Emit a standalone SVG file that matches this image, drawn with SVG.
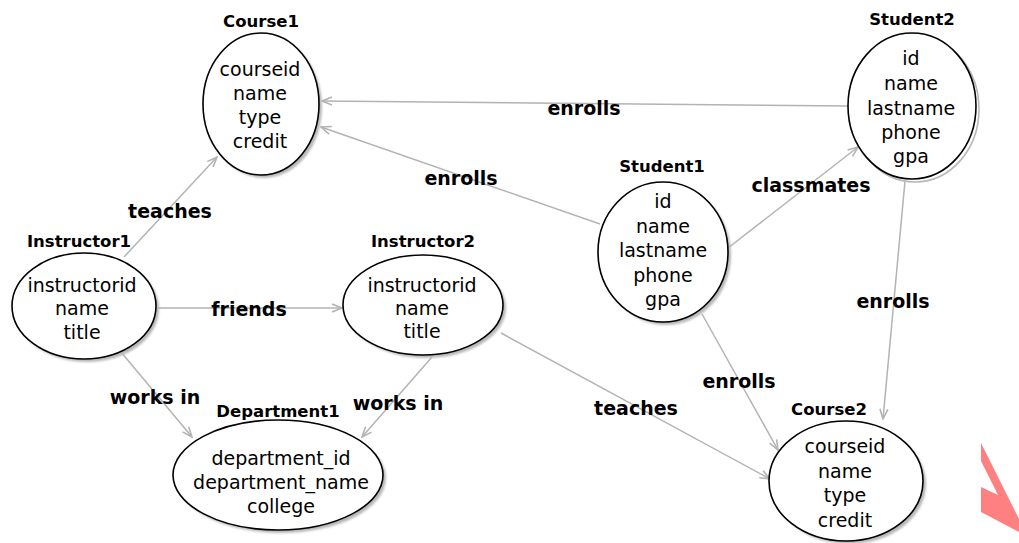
<svg xmlns="http://www.w3.org/2000/svg" width="1019" height="543" viewBox="0 0 1019 543">
  <defs>
    <marker id="arrow" viewBox="0 0 12 10" refX="11" refY="5" markerWidth="12" markerHeight="10" markerUnits="userSpaceOnUse" orient="auto">
      <path d="M1,1 L11,5 L1,9" fill="none" stroke="#b3b3b3" stroke-width="1.6"/>
    </marker>
    <filter id="soft" x="-10%" y="-10%" width="120%" height="120%">
      <feGaussianBlur stdDeviation="1.2"/>
    </filter>
  </defs>
  <style>
    .edge { fill: none; stroke: #b3b3b3; stroke-width: 1.5; marker-end: url(#arrow); }
    .node { fill: #ffffff; stroke: #000000; stroke-width: 1.6; }
    .shadow { fill: #b8b8b8; filter: url(#soft); }
    .ring { fill: none; stroke: #b8b8b8; stroke-width: 1.6; }
    .title { font-family: "DejaVu Sans", Verdana, sans-serif; font-weight: bold; font-size: 16.5px; fill: #000; text-anchor: middle; }
    .body { font-family: "DejaVu Sans", Verdana, sans-serif; font-size: 19px; fill: #000; text-anchor: middle; }
    .elabel { font-family: "DejaVu Sans", Verdana, sans-serif; font-weight: bold; font-size: 19px; fill: #000; text-anchor: middle; }
  </style>
  <rect width="1019" height="543" fill="#ffffff"/>

  <!-- relationships -->
  <g id="connectors">
    <line class="edge" x1="124" y1="257" x2="217" y2="157"/>
    <line class="edge" x1="848" y1="106" x2="322" y2="101"/>
    <line class="edge" x1="600" y1="224" x2="321" y2="127"/>
    <line class="edge" x1="728" y1="248" x2="858" y2="147"/>
    <line class="edge" x1="157" y1="308" x2="342" y2="308"/>
    <line class="edge" x1="121" y1="352" x2="192" y2="437"/>
    <line class="edge" x1="432" y1="357" x2="362" y2="437"/>
    <line class="edge" x1="501" y1="333" x2="770" y2="479"/>
    <line class="edge" x1="702" y1="314" x2="778" y2="450"/>
    <line class="edge" x1="905" y1="181" x2="883" y2="419"/>
    <text class="elabel" x="170" y="218">teaches</text>
    <text class="elabel" x="584" y="115">enrolls</text>
    <text class="elabel" x="461" y="185">enrolls</text>
    <text class="elabel" x="811" y="192">classmates</text>
    <text class="elabel" x="249" y="316">friends</text>
    <text class="elabel" x="155" y="404">works in</text>
    <text class="elabel" x="398" y="410">works in</text>
    <text class="elabel" x="636" y="415">teaches</text>
    <text class="elabel" x="739" y="388">enrolls</text>
    <text class="elabel" x="893" y="308">enrolls</text>
  </g>

  <g id="course1">
    <ellipse class="shadow" cx="264" cy="107" rx="58" ry="71"/>
    <ellipse class="node" cx="261" cy="104" rx="58" ry="71"/>
    <text class="title" x="261" y="27">Course1</text>
    <text class="body" x="260" y="76">courseid</text>
    <text class="body" x="260" y="100">name</text>
    <text class="body" x="260" y="124">type</text>
    <text class="body" x="260" y="148">credit</text>
  </g>

  <g id="student2">
    <ellipse class="ring" cx="915" cy="109" rx="64" ry="73"/>
    <ellipse class="node" cx="912" cy="106" rx="64" ry="73"/>
    <text class="title" x="912" y="25">Student2</text>
    <text class="body" x="911" y="65">id</text>
    <text class="body" x="911" y="90">name</text>
    <text class="body" x="911" y="115">lastname</text>
    <text class="body" x="911" y="139">phone</text>
    <text class="body" x="911" y="163">gpa</text>
  </g>

  <g id="instructor1">
    <ellipse class="shadow" cx="87" cy="309" rx="72" ry="53"/>
    <ellipse class="node" cx="84" cy="306" rx="72" ry="53"/>
    <text class="title" x="79" y="247">Instructor1</text>
    <text class="body" x="82" y="292">instructorid</text>
    <text class="body" x="82" y="315">name</text>
    <text class="body" x="82" y="339">title</text>
  </g>

  <g id="student1">
    <ellipse class="shadow" cx="666" cy="255" rx="65" ry="70"/>
    <ellipse class="node" cx="663" cy="252" rx="65" ry="70"/>
    <text class="title" x="662" y="172">Student1</text>
    <text class="body" x="663" y="208">id</text>
    <text class="body" x="663" y="233">name</text>
    <text class="body" x="663" y="257">lastname</text>
    <text class="body" x="663" y="282">phone</text>
    <text class="body" x="663" y="306">gpa</text>
  </g>

  <g id="instructor2">
    <ellipse class="shadow" cx="426" cy="308" rx="80" ry="50"/>
    <ellipse class="node" cx="423" cy="305" rx="80" ry="50"/>
    <text class="title" x="423" y="247">Instructor2</text>
    <text class="body" x="422" y="292">instructorid</text>
    <text class="body" x="422" y="315">name</text>
    <text class="body" x="422" y="338">title</text>
  </g>

  <g id="department1">
    <ellipse class="shadow" cx="281" cy="478" rx="105" ry="55"/>
    <ellipse class="node" cx="278" cy="475" rx="105" ry="55"/>
    <text class="title" x="278" y="417">Department1</text>
    <text class="body" x="281" y="465">department_id</text>
    <text class="body" x="281" y="489">department_name</text>
    <text class="body" x="281" y="513">college</text>
  </g>

  <g id="course2">
    <ellipse class="shadow" cx="849" cy="484" rx="77" ry="60"/>
    <ellipse class="node" cx="846" cy="481" rx="77" ry="60"/>
    <text class="title" x="829" y="415">Course2</text>
    <text class="body" x="845" y="453">courseid</text>
    <text class="body" x="845" y="478">name</text>
    <text class="body" x="845" y="502">type</text>
    <text class="body" x="845" y="527">credit</text>
  </g>

  <!-- red pointer at the lower right edge -->
  <polygon points="981,443 1019,519 1019,532 981,512 981,487 998,495 981,461" fill="#ff8080"/>
</svg>
